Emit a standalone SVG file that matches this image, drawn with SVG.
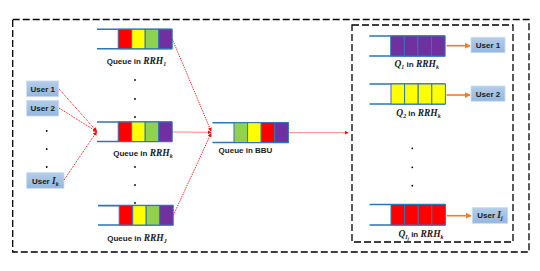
<svg xmlns="http://www.w3.org/2000/svg" width="540" height="271" viewBox="0 0 540 271">
<defs>
<marker id="ar" viewBox="0 0 6 6" refX="5" refY="3" markerWidth="4" markerHeight="4" orient="auto" markerUnits="userSpaceOnUse"><path d="M0,0 L6,3 L0,6 Z" fill="#ff0000"/></marker>
<marker id="ao" viewBox="0 0 8 8" refX="7" refY="4" markerWidth="6" markerHeight="6" orient="auto" markerUnits="userSpaceOnUse"><path d="M0,0 L8,4 L0,8 Z" fill="#ed7d31"/></marker>
<linearGradient id="ug" x1="0" y1="0" x2="0" y2="1"><stop offset="0" stop-color="#b4cde9"/><stop offset="1" stop-color="#94b7df"/></linearGradient>
</defs>
<style>
.frame{fill:none;stroke:#000;stroke-width:1.3;stroke-dasharray:7,3}
.ql{stroke:#2e75b6;stroke-width:1.6;fill:none}
.c{stroke:#2e75b6;stroke-width:1}
.r{fill:#ff0000}.y{fill:#ffff00}.g{fill:#92d050}.p{fill:#7030a0}
.ub{fill:url(#ug);stroke:#c9dbef;stroke-width:0.8}
.ut{font-family:"Liberation Sans",Arial,sans-serif;font-weight:bold;font-size:8px;fill:#1a1a1a;text-anchor:middle}
.lb{font-family:"Liberation Sans",Arial,sans-serif;font-weight:bold;font-size:8px;fill:#1a1a1a;text-anchor:middle}
.m{font-family:"Liberation Serif","Times New Roman",serif;font-style:italic;font-weight:bold;font-size:9.5px}
.s{font-size:6px}
.dot{fill:#000}
.ra{stroke:#ff0000;stroke-width:1;stroke-dasharray:1,1;fill:none;marker-end:url(#ar)}
.oa{stroke:#ed7d31;stroke-width:1.6;fill:none;marker-end:url(#ao)}
</style>
<rect class="frame" x="12.7" y="19.5" width="516.3" height="232.5"/>
<rect class="frame" x="352" y="25" width="161" height="217"/>

<g id="user1">
<rect class="ub" x="26.7" y="81" width="32" height="15.7"/>
<text class="ut" x="42.7" y="91.8">User 1</text>
</g>
<g id="user2">
<rect class="ub" x="26.7" y="100.3" width="32" height="15.7"/>
<text class="ut" x="42.7" y="111.1">User 2</text>
</g>
<g id="userIk">
<rect class="ub" x="26.7" y="172.7" width="37.3" height="15.6"/>
<text class="ut" x="45.3" y="183.5">User <tspan class="m">I</tspan><tspan class="m s" dy="2">k</tspan></text>
</g>
<g id="user-dots">
<circle class="dot" cx="46.7" cy="131" r="0.9"/><circle class="dot" cx="46.7" cy="149" r="0.9"/><circle class="dot" cx="46.7" cy="167" r="0.9"/>
</g>

<g id="rrh1">
<path class="ql" d="M97,29.3 H172 M97,48.7 H172"/>
<rect class="c r" x="118.2" y="29.3" width="13.5" height="19.4"/>
<rect class="c y" x="131.7" y="29.3" width="13.5" height="19.4"/>
<rect class="c g" x="145.2" y="29.3" width="13.5" height="19.4"/>
<rect class="c p" x="158.7" y="29.3" width="13.5" height="19.4"/>
<text class="lb" x="136.5" y="64">Queue in <tspan class="m">RRH</tspan><tspan class="m s" dy="2">1</tspan></text>
</g>
<g id="rrh-dots">
<circle class="dot" cx="135" cy="80" r="0.9"/><circle class="dot" cx="135" cy="99" r="0.9"/><circle class="dot" cx="135" cy="117" r="0.9"/>
<circle class="dot" cx="135" cy="167" r="0.9"/><circle class="dot" cx="135" cy="185" r="0.9"/><circle class="dot" cx="135" cy="203" r="0.9"/>
</g>
<g id="rrhk">
<path class="ql" d="M97,122 H172 M97,141.5 H172"/>
<rect class="c r" x="118.2" y="122" width="13.5" height="19.5"/>
<rect class="c y" x="131.7" y="122" width="13.5" height="19.5"/>
<rect class="c g" x="145.2" y="122" width="13.5" height="19.5"/>
<rect class="c p" x="158.7" y="122" width="13.5" height="19.5"/>
<text class="lb" x="143" y="156">Queue in <tspan class="m">RRH</tspan><tspan class="m s" dy="2">k</tspan></text>
</g>
<g id="rrhJ">
<path class="ql" d="M98,205.6 H173.2 M98,225 H173.2"/>
<rect class="c r" x="119.2" y="205.6" width="13.5" height="19.4"/>
<rect class="c y" x="132.7" y="205.6" width="13.5" height="19.4"/>
<rect class="c g" x="146.2" y="205.6" width="13.5" height="19.4"/>
<rect class="c p" x="159.7" y="205.6" width="13.5" height="19.4"/>
<text class="lb" x="137" y="240.5">Queue in <tspan class="m">RRH</tspan><tspan class="m s" dy="2">J</tspan></text>
</g>
<g id="bbu">
<path class="ql" d="M212.5,122.7 H288.5 M212.5,142.5 H288.5"/>
<rect class="c g" x="234" y="122.7" width="13.6" height="19.8"/>
<rect class="c y" x="247.6" y="122.7" width="13.6" height="19.8"/>
<rect class="c r" x="261.2" y="122.7" width="13.6" height="19.8"/>
<rect class="c p" x="274.8" y="122.7" width="13.6" height="19.8"/>
<text class="lb" x="245.5" y="153">Queue in BBU</text>
</g>

<g id="q1">
<path class="ql" d="M369.3,36 H445 M369.3,56 H445"/>
<rect class="c p" x="390.7" y="36" width="13.6" height="20"/>
<rect class="c p" x="404.3" y="36" width="13.6" height="20"/>
<rect class="c p" x="417.9" y="36" width="13.6" height="20"/>
<rect class="c p" x="431.5" y="36" width="13.6" height="20"/>
<text class="lb" x="416.7" y="67"><tspan class="m">Q</tspan><tspan class="m s" dy="2">1</tspan><tspan dy="-2"> in </tspan><tspan class="m">RRH</tspan><tspan class="m s" dy="2">k</tspan></text>
</g>
<g id="q2">
<path class="ql" d="M369.5,84 H445.2 M369.5,104 H445.2"/>
<rect class="c y" x="391" y="84" width="13.6" height="20"/>
<rect class="c y" x="404.6" y="84" width="13.6" height="20"/>
<rect class="c y" x="418.2" y="84" width="13.6" height="20"/>
<rect class="c y" x="431.8" y="84" width="13.6" height="20"/>
<text class="lb" x="418.5" y="115.5"><tspan class="m">Q</tspan><tspan class="m s" dy="2">2</tspan><tspan dy="-2"> in </tspan><tspan class="m">RRH</tspan><tspan class="m s" dy="2">k</tspan></text>
</g>
<g id="q-dots">
<circle class="dot" cx="412.3" cy="148.3" r="0.9"/><circle class="dot" cx="412.3" cy="167.3" r="0.9"/><circle class="dot" cx="412.3" cy="185.7" r="0.9"/>
</g>
<g id="qIj">
<path class="ql" d="M369.5,204.5 H445.2 M369.5,225 H445.2"/>
<rect class="c r" x="391" y="204.5" width="13.6" height="20.5"/>
<rect class="c r" x="404.6" y="204.5" width="13.6" height="20.5"/>
<rect class="c r" x="418.2" y="204.5" width="13.6" height="20.5"/>
<rect class="c r" x="431.8" y="204.5" width="13.6" height="20.5"/>
<text class="lb" x="421" y="236.5"><tspan class="m">Q</tspan><tspan class="m s" dy="2">I</tspan><tspan class="m" style="font-size:4.5px" dy="1.5">j</tspan><tspan dy="-3.5"> in </tspan><tspan class="m">RRH</tspan><tspan class="m s" dy="2">k</tspan></text>
</g>

<g id="ruser1">
<rect class="ub" x="471" y="37.3" width="34" height="15.4"/>
<text class="ut" x="488" y="47.9">User 1</text>
</g>
<g id="ruser2">
<rect class="ub" x="471" y="86" width="34" height="15.2"/>
<text class="ut" x="488" y="96.5">User 2</text>
</g>
<g id="ruserIj">
<rect class="ub" x="472.3" y="207.7" width="35.4" height="15.6"/>
<text class="ut" x="490" y="218.4">User <tspan class="m">I</tspan><tspan class="m s" dy="2">j</tspan></text>
</g>

<g id="connectors">
<line class="ra" x1="59" y1="89" x2="96.5" y2="131"/>
<line class="ra" x1="59" y1="108" x2="96.5" y2="131.5"/>
<line class="ra" x1="64" y1="180" x2="96.5" y2="132"/>
<line class="ra" x1="172.5" y1="39.5" x2="211" y2="131"/>
<line class="ra" x1="172.5" y1="132" x2="211" y2="132.3"/>
<line class="ra" x1="173.5" y1="215" x2="211" y2="133.5"/>
<line class="ra" x1="289.5" y1="132.7" x2="348" y2="132.7"/>
<line class="oa" x1="446.5" y1="45.7" x2="470" y2="45.7"/>
<line class="oa" x1="446.5" y1="95" x2="470" y2="95"/>
<line class="oa" x1="446.5" y1="215.7" x2="471" y2="215.7"/>
</g>
</svg>
